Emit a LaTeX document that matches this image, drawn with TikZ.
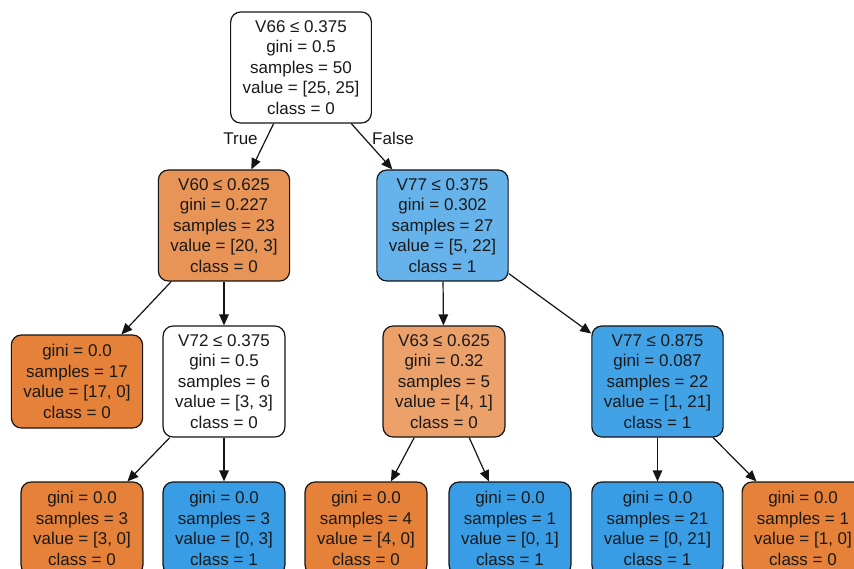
\documentclass[tikz,border=0pt]{standalone}
\usepackage{fontspec}
\setmainfont{Liberation Sans}
\usetikzlibrary{arrows.meta}
\definecolor{orA}{RGB}{229,129,57}
\definecolor{orB}{RGB}{233,148,87}
\definecolor{orC}{RGB}{236,161,107}
\definecolor{blA}{RGB}{57,157,229}
\definecolor{blB}{RGB}{102,179,235}
\definecolor{blC}{RGB}{66,162,230}
\definecolor{edgecol}{RGB}{20,20,20}
\begin{document}
\begin{tikzpicture}[x=1pt,y=-1pt,
  tn/.style={draw=edgecol, line width=1.2pt, rounded corners=10pt, align=center,
    font=\fontsize{17}{20.5}\selectfont, inner xsep=12pt, inner ysep=0pt,
    minimum height=111pt, text=black!90},
  lf/.style={tn, minimum height=93pt},
  ed/.style={draw=edgecol, -{Triangle[length=11pt,width=9.5pt]}, line width=1.2pt},
  lab/.style={font=\fontsize{17}{20.5}\selectfont, text=black!90}]
\useasboundingbox (0,0) rectangle (854,569);
\fill[white] (0,0) rectangle (854,569);
\begin{scope}
\clip (0,0) rectangle (854,569);
% level 0
\node[tn, fill=white] (root) at (301,67.5) {V66 ≤ 0.375\\gini = 0.5\\samples = 50\\value = [25, 25]\\class = 0};
% level 1
\node[tn, fill=orB] (v60) at (224,225.5) {V60 ≤ 0.625\\gini = 0.227\\samples = 23\\value = [20, 3]\\class = 0};
\node[tn, fill=blB] (v77) at (442.5,225.5) {V77 ≤ 0.375\\gini = 0.302\\samples = 27\\value = [5, 22]\\class = 1};
% level 2
\node[lf, fill=orA] (l17) at (77,381.5) {gini = 0.0\\samples = 17\\value = [17, 0]\\class = 0};
\node[tn, fill=white] (v72) at (224,381.5) {V72 ≤ 0.375\\gini = 0.5\\samples = 6\\value = [3, 3]\\class = 0};
\node[tn, fill=orC] (v63) at (444,381.5) {V63 ≤ 0.625\\gini = 0.32\\samples = 5\\value = [4, 1]\\class = 0};
\node[tn, fill=blC] (v77b) at (657.5,381.5) {V77 ≤ 0.875\\gini = 0.087\\samples = 22\\value = [1, 21]\\class = 1};
% level 3
\node[lf, fill=orA] (a) at (82,528.5) {gini = 0.0\\samples = 3\\value = [3, 0]\\class = 0};
\node[lf, fill=blA] (b) at (224,528.5) {gini = 0.0\\samples = 3\\value = [0, 3]\\class = 1};
\node[lf, fill=orA] (c) at (366,528.5) {gini = 0.0\\samples = 4\\value = [4, 0]\\class = 0};
\node[lf, fill=blA] (d) at (510,528.5) {gini = 0.0\\samples = 1\\value = [0, 1]\\class = 1};
\node[lf, fill=blA] (e) at (657.5,528.5) {gini = 0.0\\samples = 21\\value = [0, 21]\\class = 1};
\node[lf, fill=orA] (f) at (803,528.5) {gini = 0.0\\samples = 1\\value = [1, 0]\\class = 0};
% edges
\draw[ed] (root) -- (v60);
\draw[ed] (root) -- (v77);
\draw[ed] (v60) -- (l17);
\draw[ed] (v60) -- (v72);
\draw[ed] (v77) -- (v63);
\draw[ed] (v77) -- (v77b);
\draw[ed] (v72) -- (a);
\draw[ed] (v72) -- (b);
\draw[ed] (v63) -- (c);
\draw[ed] (v63) -- (d);
\draw[ed] (v77b) -- (e);
\draw[ed] (v77b) -- (f);
\node[lab] (ltrue) at (240.5,139) {True};
\node[lab] (lfalse) at (393,138) {False};
\end{scope}
\end{tikzpicture}
\end{document}
